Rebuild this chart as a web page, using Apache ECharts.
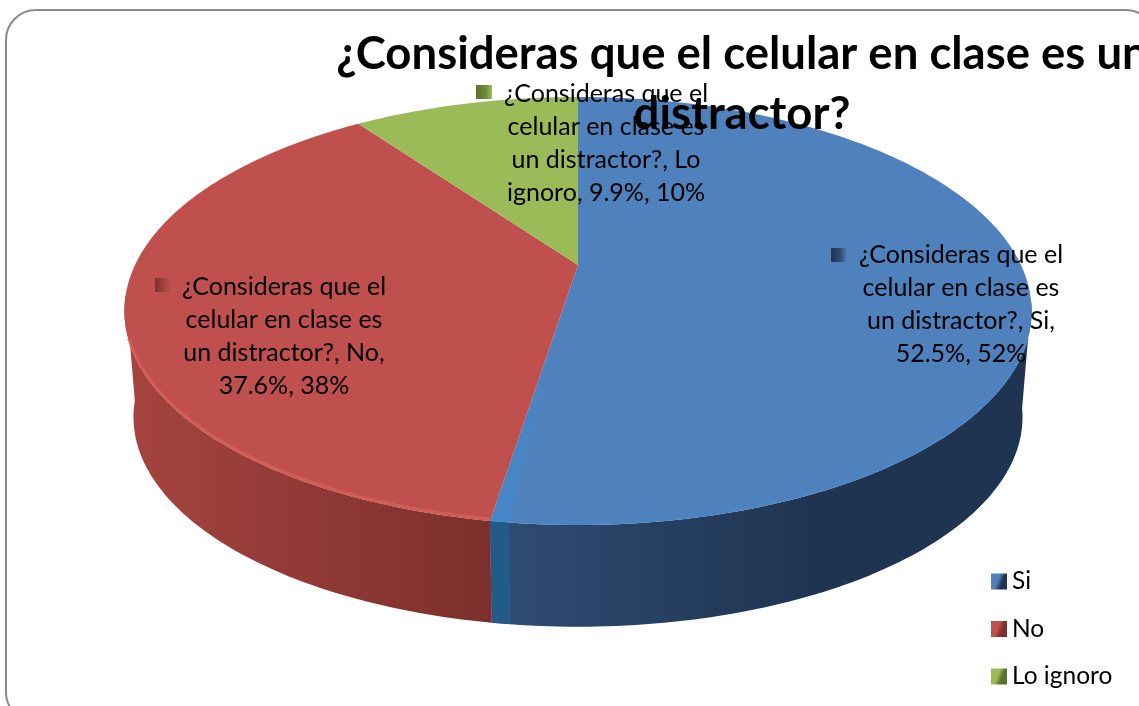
<!DOCTYPE html>
<html>
<head>
<meta charset="utf-8">
<style>
  html, body { margin: 0; padding: 0; background: #fff; overflow: hidden; }
  #main { width: 1139px; height: 706px; }
</style>
<script src="https://cdn.jsdelivr.net/npm/echarts@6/dist/echarts.min.js"></script>
</head>
<body>
<div id="main"></div>
<script>
const chartTitle = '¿Consideras que el celular en clase es un\ndistractor?'
const categories = ['Si', 'No', 'Lo ignoro']
const percentValues = [52.5, 37.6, 9.9]
const labelBreaks = [
  ['¿Consideras que el', 'celular en clase es', 'un distractor?, Si,', '52.5%, 52%'],
  ['¿Consideras que el', 'celular en clase es', 'un distractor?, No,', '37.6%, 38%'],
  ['¿Consideras que el', 'celular en clase es', 'un distractor?, Lo', 'ignoro, 9.9%, 10%']
]

const topColors = ['#4f81bd', '#c0504d', '#9bbb59']
const wallColors = [['#2f4d75', '#1f3450'], ['#a6443f', '#7c2f2c'], ['#6f8a3c', '#5a7030']]
const rimColors = ['#4a86c5', '#d9625e', '#a9c96a']
const fontFamily = 'Lato, "Noto Sans", sans-serif'

// pie geometry, the tilt is a small perspective so the centre is not mid ellipse
const pie = { cx: 578, cy: 265, a: 443, b: 204.1, k: 0.2149, depth: 0.98, cyLow: 372 }
const labelPos = [
  { x: 961, y: 255, mx: 839, my: 255 },
  { x: 284, y: 287, mx: 163, my: 285 },
  { x: 606, y: 94, mx: 484, my: 92 }
]
const lineGap = 33

function project(deg, r, low) {
  const t = deg * Math.PI / 180
  const u = r * Math.sin(t)
  const v = r * Math.cos(t)
  const w = 1 + pie.k * v
  const s = low ? pie.depth : 1
  return [pie.cx + s * pie.a * u / w, (low ? pie.cyLow : pie.cy) - s * pie.b * v / w]
}

function arc(from, to, low) {
  const pts = []
  const n = Math.max(2, Math.ceil(Math.abs(to - from)))
  for (let i = 0; i <= n; i++) pts.push(project(from + (to - from) * i / n, 1, low))
  return pts
}

const total = percentValues.reduce((a, b) => a + b, 0)
const starts = []
percentValues.reduce((acc, v, i) => { starts[i] = acc; return acc + v }, 0)

function legendBevel(color, dark) {
  return new echarts.graphic.LinearGradient(0, 0, 1, 0.4, [
    { offset: 0, color },
    { offset: 0.5, color },
    { offset: 0.8, color: dark },
    { offset: 1, color: dark }
  ])
}

function labelBevel(idx) {
  return new echarts.graphic.LinearGradient(0, 0, 1, 0, [
    { offset: 0, color: wallColors[idx][1] },
    { offset: 0.6, color: wallColors[idx][0] },
    { offset: 1, color: topColors[idx] }
  ])
}

function wallFill(idx) {
  if (idx === 0) {
    return new echarts.graphic.LinearGradient(0, 0, 1, 0, [
      { offset: 0, color: wallColors[0][0] },
      { offset: 0.6, color: wallColors[0][1] },
      { offset: 1, color: wallColors[0][1] }
    ])
  }
  return new echarts.graphic.LinearGradient(0, 0, 1, 0, [
    { offset: 0, color: wallColors[idx][0] },
    { offset: 1, color: wallColors[idx][1] }
  ])
}

function makeRender(idx) {
  return function (params, api) {
    const from = starts[idx] / total * 360
    const to = from + api.value(0) / total * 360
    const children = []
    // side wall only exists on the near half
    const wFrom = Math.max(from, 100)
    const wTo = Math.min(to, 262)
    if (wTo > wFrom) {
      children.push({
        type: 'polygon',
        shape: { points: arc(wFrom, wTo, false).concat(arc(wTo, wFrom, true)) },
        style: { fill: wallFill(idx) },
        z2: 1
      })
      children.push({
        type: 'polyline',
        shape: { points: arc(Math.max(from, 110), Math.min(to, 250), false).map(p => [p[0], p[1] - 2]) },
        style: { stroke: rimColors[idx], lineWidth: 3, fill: null, opacity: 0.7 },
        z2: 3
      })
    }
    children.push({
      type: 'polygon',
      shape: { points: [[pie.cx, pie.cy]].concat(arc(from, to, false)) },
      style: { fill: topColors[idx] },
      z2: 2
    })
    if (idx === 0) {
      // bright cut edge where blue meets red
      children.push({
        type: 'polygon',
        shape: { points: [[pie.cx, pie.cy]].concat(arc(to - 2, to, false)) },
        style: {
          fill: new echarts.graphic.LinearGradient(0, 0, 0, 1, [
            { offset: 0.3, color: 'rgba(60,140,210,0)' },
            { offset: 1, color: 'rgba(60,140,210,0.5)' }
          ])
        },
        z2: 3
      })
      children.push({
        type: 'polygon',
        shape: { points: arc(to - 2, to, false).concat(arc(to, to - 2, true)) },
        style: { fill: '#235b88' },
        z2: 1
      })
    }
    const p = labelPos[idx]
    children.push({
      type: 'rect',
      shape: { x: p.mx - 8, y: p.my - 7, width: 16, height: 14 },
      style: { fill: labelBevel(idx) },
      z2: 4
    })
    labelBreaks[idx].forEach((line, i) => {
      children.push({
        type: 'text',
        style: {
          text: line, x: p.x, y: p.y + i * lineGap,
          fill: '#000', font: '25px ' + fontFamily,
          align: 'center', verticalAlign: 'middle'
        },
        z2: 5
      })
    })
    return { type: 'group', children }
  }
}

const chart = echarts.init(document.getElementById('main'))
chart.setOption({
  animation: false,
  backgroundColor: '#fff',
  color: topColors,
  title: {
    text: chartTitle,
    left: 737,
    top: 19,
    textAlign: 'center',
    textStyle: { fontFamily, fontWeight: 'bold', fontSize: 45.5, lineHeight: 60, color: '#000' }
  },
  legend: {
    orient: 'vertical',
    left: 991,
    top: 569,
    padding: 0,
    itemWidth: 16,
    itemHeight: 16,
    itemGap: 22.5,
    icon: 'rect',
    textStyle: { fontFamily, fontSize: 24.5, color: '#000' },
    data: categories.map((name, i) => ({
      name,
      itemStyle: { color: legendBevel(topColors[i], wallColors[i][1]) }
    }))
  },
  graphic: [{
    type: 'rect',
    shape: { x: 6, y: 10, width: 1150, height: 712, r: 30 },
    style: { fill: 'none', stroke: '#8a8a8a', lineWidth: 2 },
    silent: true,
    z: 0
  }],
  series: categories.map((name, i) => ({
    type: 'custom',
    name,
    coordinateSystem: 'none',
    renderItem: makeRender(i),
    data: [percentValues[i]],
    silent: true,
    z: 2 + i
  }))
})
</script>
</body>
</html>
